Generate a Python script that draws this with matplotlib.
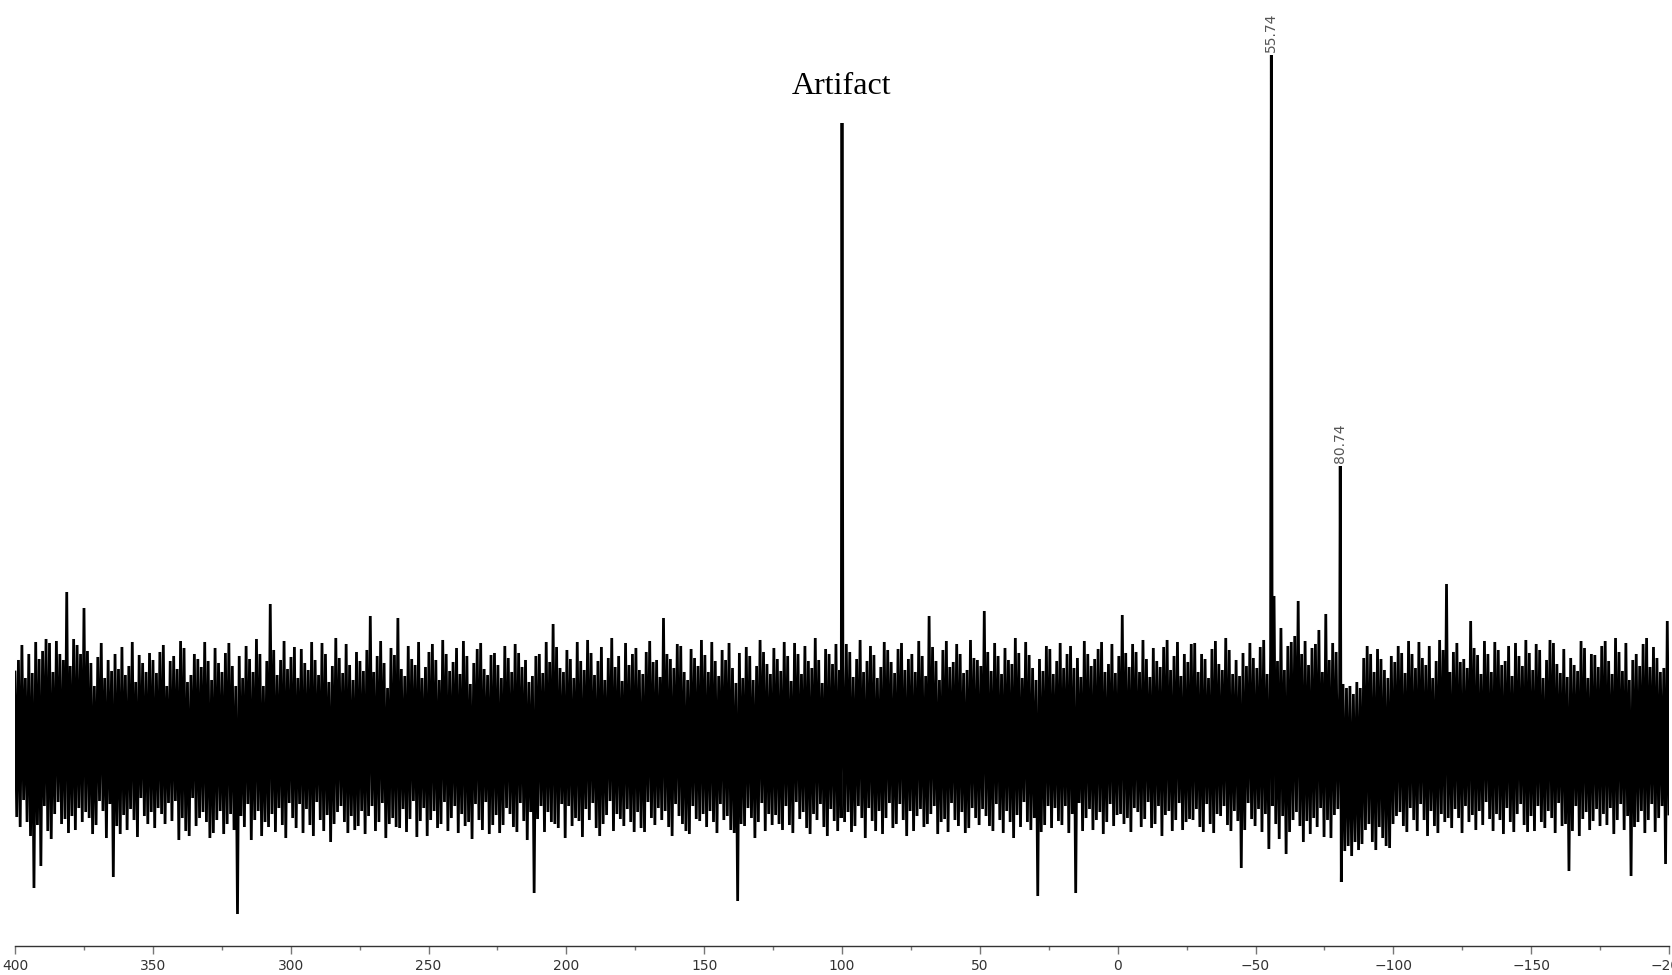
"""
核磁谱图绘制脚本
"""

import numpy as np
import matplotlib
matplotlib.use('Agg')
import matplotlib.pyplot as plt
from matplotlib.ticker import MultipleLocator

# 化学位移范围 (ppm)，从左到右递减
ppm_left = 400
ppm_right = -200

# 基线噪声 (每行约 25 ppm)
noise = [
    74, -71, 86, -81, 101, -54, 68, -76, 92, -90, 73, -142, 104, -79, 87, -120, 95, -60, 107, -85,
    103, -93, 74, -68, 105, -56, 92, -78, 86, -73, 154, -87, 80, -70, 107, -84, 101, -62, 92, -76,
    138, -66, 95, -72, 83, -88, 60, -79, 89, -55, 103, -65, 68, -92, 86, -58, 75, -131, 92, -80,
    77, -88, 99, -69, 71, -84, 80, -63, 104, -74, 64, -91, 91, -52, 83, -70, 74, -78, 93, -66,
    86, -82, 73, -62, 94, -68, 101, -78, 60, -57, 85, -75, 90, -55, 77, -94, 105, -72, 98, -85,
    64, -90, 71, -52, 92, -80, 87, -72, 79, -66, 104, -76, 85, -92, 66, -87, 98, -74, 83, -65,
    74, -88, 93, -78, 103, -68, 80, -84, 60, -168, 90, -70, 68, -81, 100, -58, 87, -94, 74, -74,
    107, -65, 92, -90, 60, -76, 85, -81, 142, -68, 96, -86, 71, -62, 86, -79, 105, -92, 77, -57,
    89, -72, 99, -82, 68, -58, 97, -87, 83, -63, 76, -79, 104, -90, 86, -56, 71, -74, 103, -85,
    92, -69, 64, -96, 80, -78, 108, -66, 88, -60, 73, -76, 102, -87, 81, -70, 66, -84, 94, -80,
    85, -65, 75, -88, 96, -70, 130, -60, 74, -85, 90, -76, 105, -57, 83, -92, 58, -78, 98, -72,
    91, -81, 128, -82, 77, -63, 70, -86, 100, -73, 87, -55, 81, -91, 104, -75, 68, -62, 79, -90,
    94, -74, 102, -65, 86, -82, 66, -78, 106, -56, 92, -85, 75, -72, 84, -60, 98, -87, 72, -68,
    105, -80, 90, -76, 62, -93, 83, -58, 97, -74, 103, -84, 77, -56, 71, -88, 91, -79, 93, -69,
    81, -87, 68, -79, 100, -62, 88, -68, 74, -81, 102, -86, 93, -57, 79, -75, 86, -94, 64, -66,
    70, -147, 90, -73, 92, -60, 73, -86, 104, -66, 84, -76, 122, -78, 99, -82, 78, -58, 74, -92,
    96, -60, 87, -80, 68, -72, 104, -75, 85, -91, 76, -63, 106, -74, 93, -57, 71, -82, 85, -90,
    99, -78, 66, -69, 88, -55, 108, -85, 79, -68, 90, -73, 65, -80, 103, -63, 81, -76, 92, -86,
    98, -66, 76, -82, 72, -86, 94, -56, 105, -72, 84, -79, 86, -62, 69, -74, 128, -65, 92, -81,
    87, -90, 78, -58, 102, -70, 100, -78, 74, -85, 66, -88, 97, -60, 88, -73, 80, -75, 106, -68,
    91, -81, 74, -65, 104, -76, 85, -87, 70, -58, 96, -74, 86, -70, 103, -84, 78, -87, 63, -155,
    93, -78, 68, -80, 99, -62, 90, -72, 66, -92, 80, -76, 106, -57, 94, -85, 82, -68, 72, -79,
    98, -69, 87, -78, 75, -84, 104, -60, 90, -79, 65, -87, 103, -56, 92, -73, 72, -66, 100, -82,
    85, -88, 78, -68, 108, -74, 86, -58, 63, -81, 97, -90, 92, -63, 82, -75, 102, -85, 76, -72,
    81, -76, 102, -66, 94, -86, 69, -80, 87, -60, 106, -72, 74, -92, 85, -62, 100, -75, 91, -85,
    68, -65, 79, -88, 104, -72, 96, -57, 84, -82, 73, -78, 97, -58, 103, -74, 76, -90, 87, -65,
    92, -85, 74, -70, 105, -63, 90, -81, 70, -78, 130, -68, 99, -60, 85, -88, 66, -76, 96, -73,
    105, -86, 79, -57, 84, -74, 102, -80, 92, -66, 73, -87, 76, -82, 106, -62, 88, -72, 86, -79,
    80, -63, 135, -70, 94, -80, 75, -85, 103, -58, 90, -74, 72, -87, 98, -65, 86, -76, 82, -92,
    108, -69, 93, -81, 68, -56, 104, -76, 91, -84, 78, -72, 66, -150, 87, -86, 75, -79, 100, -60,
    97, -82, 72, -62, 85, -75, 103, -79, 78, -60, 92, -87, 100, -68, 78, -147, 88, -57, 69, -85,
    105, -72, 92, -63, 80, -84, 87, -74, 97, -66, 104, -88, 74, -76, 82, -58, 102, -80, 73, -69,
    90, -68, 131, -78, 93, -72, 79, -86, 102, -62, 94, -66, 74, -81, 106, -73, 87, -56, 69, -82,
    98, -78, 85, -60, 79, -90, 99, -69, 106, -65, 76, -85, 90, -74, 104, -57, 70, -84, 92, -76,
    84, -73, 102, -74, 103, -63, 74, -81, 92, -86, 87, -58, 68, -78, 97, -87, 105, -68, 82, -70,
    76, -60, 108, -79, 96, -85, 72, -65, 86, -75, 70, -122, 93, -84, 80, -57, 103, -73, 88, -80,
    78, -63, 99, -86, 106, -68, 72, -103, 92, -60, 150, -78, 85, -93, 118, -70, 76, -108, 100, -86,
    104, -74, 110, -66, 145, -80, 92, -96, 105, -75, 81, -88, 98, -72, 102, -81, 116, -62, 74, -91,
    132, -74, 86, -92, 103, -69, 94, -63, 55, -136, 62, -105, 58, -100, 60, -110, 52, -96, 64, -104,
    58, -98, 88, -84, 100, -78, 92, -96, 74, -104, 97, -81, 87, -92, 76, -100, 68, -102, 90, -78,
    84, -70, 100, -66, 93, -80, 73, -86, 105, -62, 92, -74, 78, -85, 104, -58, 88, -74, 81, -90,
    100, -65, 68, -80, 85, -87, 106, -68, 96, -76, 162, -72, 74, -82, 94, -63, 103, -72, 84, -87,
    87, -60, 78, -76, 125, -69, 98, -84, 91, -65, 72, -79, 105, -56, 92, -73, 74, -85, 104, -68,
    96, -74, 81, -88, 85, -62, 100, -76, 70, -86, 103, -68, 90, -58, 80, -79, 106, -86, 93, -70,
    76, -85, 102, -60, 96, -76, 68, -82, 86, -65, 106, -72, 103, -87, 82, -57, 73, -80, 97, -78,
    69, -125, 88, -85, 81, -60, 75, -90, 105, -73, 98, -66, 68, -84, 92, -75, 91, -63, 79, -80,
    100, -68, 105, -79, 85, -62, 72, -88, 108, -74, 94, -58, 75, -84, 103, -70, 66, -130, 86, -81,
    92, -76, 80, -65, 102, -87, 108, -74, 79, -58, 99, -86, 88, -72, 74, -60, 78, -118, 125, -68,
]

# 谱峰位置 (ppm) 与强度
peak_ppm = [100.0, -55.74, -80.74]
peak_height = [623, 691, 280]
peak_labels = ['', '55.74', '80.74']
artifact_ppm = 100.0

# 合并噪声与谱峰
noise_ppm = np.linspace(ppm_left, ppm_right, len(noise))
x = np.concatenate([noise_ppm, peak_ppm])
y = np.concatenate([noise, peak_height])
order = np.argsort(-x)
x, y = x[order], y[order]

fig = plt.figure(figsize=(16.72, 9.75), dpi=100)
ax = fig.add_axes([15 / 1672, 29 / 975, 1654 / 1672, 946 / 975])

ax.plot(x, y, color='black', lw=2.0, solid_joinstyle='miter')

ax.set_xlim(ppm_left, ppm_right)
ax.set_ylim(-200, 746)

# 峰值标注
for p, h, lab in zip(peak_ppm, peak_height, peak_labels):
    if lab:
        ax.text(p, h + 3, lab, rotation=90, ha='center', va='bottom',
                fontsize=10, color='#555555', family='DejaVu Sans')

ax.text(artifact_ppm, 652, 'Artifact', ha='center', va='baseline',
        fontsize=23, family='Liberation Serif', color='black')

# 坐标轴样式
for side in ['left', 'right', 'top']:
    ax.spines[side].set_visible(False)
ax.spines['bottom'].set_color('#333333')
ax.spines['bottom'].set_linewidth(1.0)
ax.set_yticks([])
ax.xaxis.set_major_locator(MultipleLocator(50))
ax.xaxis.set_minor_locator(MultipleLocator(25))
ax.tick_params(axis='x', which='major', direction='out', length=6, width=1,
               color='#777777', labelsize=10, labelcolor='#333333', pad=3)
ax.tick_params(axis='x', which='minor', direction='out', length=3, width=1,
               color='#777777')

fig.savefig('out.png', dpi=100)
